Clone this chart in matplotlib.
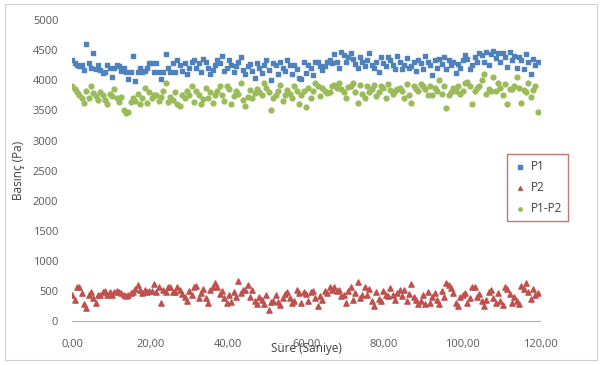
import numpy as np
import matplotlib
matplotlib.use("Agg")
from matplotlib import pyplot as plt
from matplotlib.patches import Rectangle

plt.rcParams['font.family'] = ['Open Sans', 'DejaVu Sans']

# zaman (saniye), 0.6 s aralik
sure = np.arange(200) * 0.6

p1 = [4330, 4290, 4260, 4230, 4250, 4170, 4600, 4280, 4200, 4460, 4180, 4250, 4170, 4120, 4130, 4250, 4200, 4060, 4200, 4260,
      4230, 4150, 4210, 4130, 4020, 4130, 4400, 3990, 4130, 4200, 4130, 4160, 4200, 4280, 4280, 4130, 4280, 4130, 4020, 4130,
      4440, 4200, 4130, 4280, 4130, 4340, 4250, 4150, 4280, 4100, 4200, 4300, 4330, 4210, 4280, 4140, 4360, 4300, 4200, 4100,
      4170, 4260, 4330, 4290, 4400, 4150, 4210, 4330, 4260, 4130, 4240, 4310, 4380, 4170, 4100, 4230, 4270, 4150, 4030, 4280,
      4200, 4120, 4250, 4330, 4170, 4010, 4280, 4250, 4100, 4300, 4200, 4150, 4330, 4250, 4100, 4250, 4180, 4030, 4020, 4300,
      4120, 4260, 4200, 4080, 4300, 4300, 4230, 4170, 4240, 4300, 4330, 4280, 4430, 4300, 4210, 4470, 4420, 4300, 4380, 4450,
      4350, 4270, 4200, 4390, 4300, 4230, 4340, 4450, 4250, 4200, 4310, 4140, 4380, 4290, 4230, 4380, 4330, 4250, 4180, 4410,
      4300, 4180, 4260, 4370, 4200, 4240, 4310, 4150, 4340, 4280, 4190, 4400, 4300, 4250, 4080, 4330, 4210, 4350, 4270, 4390,
      4180, 4330, 4250, 4300, 4120, 4270, 4200, 4330, 4420, 4350, 4180, 4250, 4380, 4300, 4460, 4420, 4300, 4470, 4260, 4440,
      4480, 4370, 4460, 4300, 4450, 4380, 4220, 4470, 4330, 4410, 4200, 4390, 4330, 4180, 4440, 4310, 4100, 4360, 4260, 4300]

p2 = [430, 350, 560, 560, 470, 280, 220, 430, 480, 390, 300, 440, 430, 480, 500, 440, 480, 430, 480, 500,
      490, 460, 440, 420, 430, 470, 480, 540, 600, 510, 470, 520, 490, 500, 500, 610, 480, 560, 300, 520,
      490, 560, 560, 480, 490, 560, 520, 450, 400, 330, 500, 430, 560, 590, 380, 460, 530, 380, 300, 520,
      560, 640, 570, 450, 500, 380, 300, 440, 320, 480, 400, 660, 470, 520, 520, 600, 400, 510, 340, 280,
      410, 360, 290, 430, 180, 320, 340, 440, 320, 270, 380, 450, 480, 380, 300, 330, 510, 470, 310, 490,
      450, 330, 480, 500, 380, 250, 420, 360, 500, 470, 560, 520, 560, 500, 510, 420, 430, 300, 500, 560,
      350, 470, 650, 380, 440, 560, 430, 530, 330, 250, 480, 370, 340, 500, 440, 420, 550, 440, 360, 470,
      510, 420, 520, 330, 450, 620, 410, 350, 290, 340, 440, 280, 490, 300, 400, 460, 360, 280, 500, 400,
      640, 600, 550, 470, 300, 260, 400, 430, 460, 300, 380, 560, 560, 400, 450, 330, 260, 350, 480, 520,
      390, 300, 460, 340, 270, 560, 540, 450, 300, 400, 330, 280, 590, 540, 630, 480, 370, 540, 430, 460]

p1_p2 = [3900, 3850, 3800, 3760, 3700, 3620, 3820, 3700, 3900, 3790, 3740, 3680, 3800, 3750, 3680, 3600, 3780, 3740, 3850, 3700,
         3640, 3730, 3500, 3450, 3480, 3640, 3700, 3660, 3780, 3600, 3710, 3870, 3620, 3800, 3700, 3760, 3760, 3650, 3720, 3830,
         3960, 3640, 3720, 3680, 3800, 3600, 3580, 3760, 3700, 3830, 3750, 3900, 3640, 3820, 3750, 3600, 3690, 3870, 3700, 3800,
         3620, 3760, 3820, 3900, 3760, 3650, 3900, 3860, 3600, 3740, 3820, 3770, 3960, 3680, 3580, 3720, 3840, 3700, 3790, 3860,
         3800, 3750, 3950, 3880, 3810, 3500, 3710, 3760, 3820, 3920, 3650, 3760, 3840, 3780, 3700, 3900, 3820, 3600, 3760, 3820,
         3560, 3870, 3700, 3820, 3960, 3900, 3740, 3880, 3820, 3790, 3800, 3900, 3930, 3880, 3960, 3860, 3800, 3700, 3890, 3910,
         3950, 3800, 3620, 3930, 3780, 3700, 3900, 3800, 3860, 3920, 3740, 3800, 3900, 3880, 3700, 3940, 3840, 3780, 3820, 3850,
         3880, 3820, 3700, 3940, 3760, 3620, 3900, 3860, 3820, 3940, 3900, 3860, 3760, 3900, 3760, 3880, 3820, 4000, 3780, 3900,
         3540, 3760, 3800, 3880, 3820, 3900, 3780, 3820, 3960, 3980, 3900, 3600, 3820, 3880, 3900, 4000, 4100, 3780, 3860, 3820,
         4050, 3820, 3960, 3880, 3760, 3940, 3600, 3860, 3850, 3900, 4050, 3880, 3620, 3840, 3800, 3950, 3720, 3840, 3900, 3480]

x_ticks = [0, 20, 40, 60, 80, 100, 120]
y_ticks = [0, 500, 1000, 1500, 2000, 2500, 3000, 3500, 4000, 4500, 5000]

fig = plt.figure(figsize=(6.02, 3.65), dpi=100)
ax = fig.add_axes([0.12, 0.12, 0.777, 0.825])

ax.scatter(sure, p1, marker='s', s=12, color='#4F81BD', label='P1', zorder=3)
ax.scatter(sure, p2, marker='^', s=14, color='#C0504D', label='P2', zorder=3)
ax.scatter(sure, p1_p2, marker='o', s=12, color='#9BBB59', label='P1-P2', zorder=3)

ax.set_xlim(0, 120)
ax.set_ylim(0, 5000)
ax.set_xticks(x_ticks)
ax.set_xticklabels(['%d,00' % v for v in x_ticks])
ax.set_yticks(y_ticks)
ax.tick_params(length=0, labelsize=8, labelcolor='#595959')
ax.tick_params(axis='x', pad=13)
ax.tick_params(axis='y', pad=10)

for side in ['top', 'right', 'left']:
    ax.spines[side].set_visible(False)
ax.spines['bottom'].set_color('#B0B0B0')

ax.set_xlabel('Süre (Saniye)', fontsize=8.5, color='#404040', labelpad=-6)
ax.set_ylabel('Basınç (Pa)', fontsize=8.5, color='#404040', labelpad=6)

leg = ax.legend(loc='upper left', bbox_to_anchor=(0.842, 0.577), bbox_transform=fig.transFigure,
                fontsize=8.5, frameon=True, fancybox=False, markerscale=0.7,
                handletextpad=0.3, borderpad=0.5, labelspacing=0.65, handlelength=1.2,
                borderaxespad=0)
leg.get_frame().set_edgecolor('#C0504D')
leg.get_frame().set_linewidth(1.0)
for t in leg.get_texts():
    t.set_color('#404040')

# dis cerceve
fig.patches.append(Rectangle((0.008, 0.014), 0.984, 0.976, transform=fig.transFigure,
                             fill=False, edgecolor='#D0D0D0', linewidth=0.8))

plt.savefig('out.png', dpi=100)
